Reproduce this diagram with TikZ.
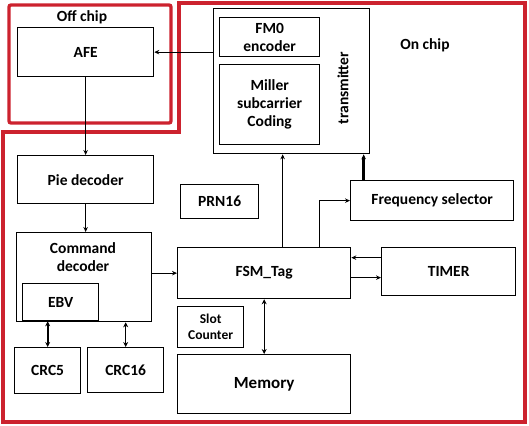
\documentclass[tikz,border=0pt]{standalone}
\usepackage{fontspec}
\setmainfont{Carlito}
\usetikzlibrary{arrows.meta,positioning}
\definecolor{chipred}{RGB}{204,34,46}
\tikzset{
    block/.style={
    rectangle,draw=black,line width=1.3pt,inner sep=0pt,anchor=north west,align=center,
    font=\bfseries\fontsize{15.5}{18}\selectfont
    },
    smallblock/.style={
    block,font=\bfseries\fontsize{13.5}{16}\selectfont
    },
    tag/.style={
    inner sep=0pt,align=center,font=\bfseries\fontsize{15.5}{18}\selectfont
    },
    link/.style={
    line width=1.2pt,-{Stealth[length=5pt,width=4.5pt]}
    },
    dlink/.style={
    line width=1.8pt,{Stealth[length=5pt,width=5pt]}-{Stealth[length=5pt,width=5pt]}
    },
    chipframe/.style={
    draw=chipred,line width=3.3pt
    },
}
\begin{document}
\begin{tikzpicture}[x=1pt,y=-1pt]
  \useasboundingbox (0,0) rectangle (529,425);

  % chip boundaries
  \draw[chipframe,rounded corners=2pt] (9,5) rectangle (171,123);
  \draw[chipframe] (3,132) -- (179,132) -- (179,3) -- (525,3) -- (525,422) -- (3,422) -- cycle;
  \node[tag] (offchip) at (82,17) {Off chip};
  \node[tag] (onchip) at (425,45) {On chip};

  \node[block,minimum width=136pt,minimum height=49pt] (AFE) at (17,27) {AFE};
  \node[block,minimum width=136pt,minimum height=48pt] (PIE) at (17,155) {Pie decoder};
  \node[block,minimum width=135pt,minimum height=89pt] (CMD) at (16,232) {};
  \node[tag] (CMDtext) at (83,257) {Command\\decoder};
  \node[block,minimum width=76pt,minimum height=37pt] (EBV) at (22,283) {EBV};
  \node[block,minimum width=66pt,minimum height=46pt] (CRC5) at (14,347) {CRC5};
  \node[block,minimum width=76pt,minimum height=45pt] (CRC16) at (87,347) {CRC16};
  \node[block,minimum width=78pt,minimum height=34pt] (PRN) at (180,184) {PRN16};

  % transmitter
  \node[block,minimum width=156pt,minimum height=145pt] (TX) at (213,8) {};
  \node[tag,rotate=90] (TXtext) at (343,88) {transmitter};
  \node[block,minimum width=100pt,minimum height=39pt] (FM0) at (219,17) {FM0\\encoder};
  \node[block,minimum width=100pt,minimum height=80pt] (MIL) at (219,64) {Miller\\subcarrier\\Coding};

  \node[block,minimum width=163pt,minimum height=40pt] (FREQ) at (350,180) {Frequency selector};
  \node[block,minimum width=173pt,minimum height=51pt] (FSM) at (177,247) {FSM\_Tag};
  \node[block,minimum width=134pt,minimum height=48pt] (TIMER) at (381,247) {TIMER};
  \node[smallblock,minimum width=66pt,minimum height=41pt] (SLOT) at (177,306) {Slot\\Counter};
  \node[block,minimum width=173pt,minimum height=59pt,font=\bfseries\fontsize{17}{20}\selectfont] (MEM) at (177,354) {Memory};

  \draw[link] (TX.west |- AFE.east) -- (AFE.east);
  \draw[link] (AFE.south) -- (PIE.north);
  \draw[link] (PIE.south) -- (PIE.south |- CMD.north);
  \draw[link] (CMD.east |- FSM.west) -- (FSM.west);
  \draw[link] ([xshift=18.5pt]FSM.north) -- ([xshift=18.5pt]FSM.north |- TX.south);
  \draw[link] ([xshift=55.5pt]FSM.north) |- (FREQ.west);
  \draw[link,line width=2.6pt] ([xshift=-68.5pt]FREQ.north) -- ([xshift=-68.5pt]FREQ.north |- TX.south);
  \draw[link] ([yshift=14pt]TIMER.west) -- ([yshift=14pt]TIMER.west -| FSM.east);
  \draw[link] ([yshift=-6pt]TIMER.west -| FSM.east) -- ([yshift=-6pt]TIMER.west);
  \draw[dlink,line width=1.3pt] (FSM.south) -- (MEM.north);
  \draw[dlink] (CRC5.north) -- (CRC5.north |- EBV.south);
  \draw[dlink,line width=1.3pt] (CRC16.north) -- (CRC16.north |- CMD.south);
\end{tikzpicture}
\end{document}
